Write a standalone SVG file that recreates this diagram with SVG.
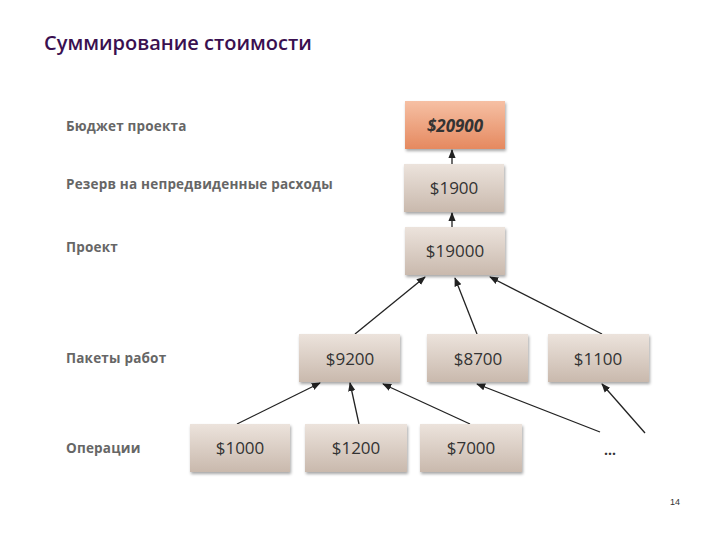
<svg xmlns="http://www.w3.org/2000/svg" width="720" height="540" viewBox="0 0 720 540">
<defs>
<linearGradient id="g" x1="0" y1="0" x2="0" y2="1"><stop offset="0" stop-color="#ece3dc"/><stop offset="1" stop-color="#c9b9ad"/></linearGradient>
<linearGradient id="o" x1="0" y1="0" x2="0" y2="1"><stop offset="0" stop-color="#f6c0a4"/><stop offset="1" stop-color="#e5895f"/></linearGradient>
<filter id="s" x="-10%" y="-10%" width="125%" height="130%"><feDropShadow dx="1" dy="2" stdDeviation="1.5" flood-color="#000" flood-opacity="0.35"/></filter>
<marker id="a" viewBox="0 0 10 10" refX="9" refY="5" markerWidth="7" markerHeight="7" orient="auto-start-reverse"><path d="M0,1 L10,5 L0,9 Z" fill="#222"/></marker>
</defs>
<style>
.b{fill:url(#g);filter:url(#s)}
.t{font-family:"Open Sans","DejaVu Sans",sans-serif;font-size:17px;fill:#333;text-anchor:middle}
.l{font-family:"Open Sans","DejaVu Sans",sans-serif;font-size:13.5px;font-weight:bold;fill:#666;letter-spacing:0.2px}
.c line{stroke:#222;stroke-width:1.3;marker-end:url(#a)}
</style>
<rect width="720" height="540" fill="#fff"/>
<text x="44" y="50" font-family="Open Sans, DejaVu Sans, sans-serif" font-size="20" font-weight="600" fill="#3a1050">Суммирование стоимости</text>
<text class="l" x="66" y="131">Бюджет проекта</text>
<text class="l" x="66" y="189">Резерв на непредвиденные расходы</text>
<text class="l" x="66" y="252">Проект</text>
<text class="l" x="66" y="363">Пакеты работ</text>
<text class="l" x="66" y="453">Операции</text>
<g class="c">
<line x1="452" y1="164" x2="452" y2="150"/>
<line x1="452" y1="227" x2="452" y2="213"/>
<line x1="355" y1="334" x2="425" y2="277"/>
<line x1="477" y1="334" x2="455" y2="278"/>
<line x1="602" y1="334" x2="490" y2="277"/>
<line x1="237" y1="424" x2="320" y2="383"/>
<line x1="359" y1="424" x2="350" y2="383"/>
<line x1="470" y1="424" x2="383" y2="384"/>
<line x1="600" y1="432" x2="477" y2="384"/>
<line x1="645" y1="433" x2="602" y2="384"/>
</g>
<g id="n20900"><rect x="405" y="101" width="100" height="48" fill="url(#o)" filter="url(#s)"/><text class="t" x="455" y="132" font-weight="bold" font-style="italic" fill="#3a1a10">$20900</text></g>
<g id="n1900"><rect class="b" x="404" y="164" width="100" height="48"/><text class="t" x="454" y="194">$1900</text></g>
<g id="n19000"><rect class="b" x="405" y="227" width="100" height="48"/><text class="t" x="455" y="257">$19000</text></g>
<g id="n9200"><rect class="b" x="299" y="334" width="101" height="48"/><text class="t" x="350" y="365">$9200</text></g>
<g id="n8700"><rect class="b" x="427" y="334" width="101" height="48"/><text class="t" x="478" y="365">$8700</text></g>
<g id="n1100"><rect class="b" x="548" y="334" width="101" height="48"/><text class="t" x="598" y="365">$1100</text></g>
<g id="n1000"><rect class="b" x="190" y="424" width="100" height="48"/><text class="t" x="240" y="454">$1000</text></g>
<g id="n1200"><rect class="b" x="305" y="424" width="102" height="48"/><text class="t" x="356" y="454">$1200</text></g>
<g id="n7000"><rect class="b" x="420" y="424" width="102" height="48"/><text class="t" x="471" y="454">$7000</text></g>
<text x="610" y="455" font-family="Open Sans, DejaVu Sans, sans-serif" font-size="14" font-weight="bold" fill="#333" text-anchor="middle">...</text>
<text x="670" y="505" font-family="Liberation Sans, sans-serif" font-size="9" fill="#333">14</text>
</svg>
